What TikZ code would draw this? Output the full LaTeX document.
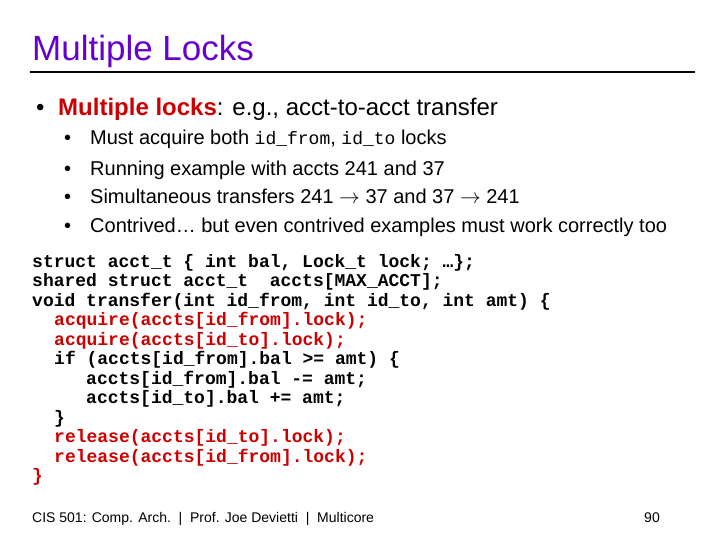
\documentclass[tikz,border=0pt]{standalone}
\usepackage{fontspec}
\setmainfont{Liberation Sans}
\setmonofont{Liberation Mono}
\begin{document}
\begin{tikzpicture}[x=1pt,y=-1pt,
  txt/.style={anchor=base west,inner sep=0pt},
  lvl1/.style={txt,font=\fontsize{24}{26}\selectfont},
  lvl2/.style={txt,font=\fontsize{20}{22}\selectfont},
  code/.style={txt,font=\fontsize{18}{19}\selectfont\ttfamily\bfseries},
  foot/.style={txt,font=\fontsize{14}{16}\selectfont}]
\definecolor{titlec}{RGB}{102,0,204}
\definecolor{redc}{RGB}{204,0,0}
\useasboundingbox (0,0) rectangle (720,540);
\fill[white] (0,0) rectangle (720,540);
\node[txt,font=\fontsize{35}{38}\selectfont,text=titlec] (title) at (32,61) {Multiple Locks};
\coordinate (l1) at (30,72); \coordinate (l2) at (695,72);
\draw[line width=2pt] (l1) -- (l2);
\node[lvl1] (b1) at (36,116) {•};
\node[lvl1] (t1) at (58,116) {\textcolor{redc}{\textbf{Multiple locks}}: e.g., acct-to-acct transfer};
\foreach \y/\t [count=\i] in {145/{Must acquire both \texttt{\fontsize{18}{19}\selectfont id\_from}, \texttt{\fontsize{18}{19}\selectfont id\_to} locks},
  176/{Running example with accts 241 and 37},
  204/{Simultaneous transfers 241 $\rightarrow$ 37 and 37 $\rightarrow$ 241},
  233/{Contrived… but even contrived examples must work correctly too}}{
  \node[lvl2] (sb\i) at (64,\y) {•};
  \node[lvl2] (st\i) at (90,\y) {\t};
}
\foreach \y/\x/\c/\t [count=\i] in {
  267/32/black/{struct acct\_t \{ int bal, Lock\_t lock; …\};},
  286/32/black/{shared struct acct\_t~~accts[MAX\_ACCT];},
  306/32/black/{void transfer(int id\_from, int id\_to, int amt) \{},
  325/54/redc/{acquire(accts[id\_from].lock);},
  345/54/redc/{acquire(accts[id\_to].lock);},
  364/54/black/{if (accts[id\_from].bal >= amt) \{},
  384/86/black/{accts[id\_from].bal -= amt;},
  403/86/black/{accts[id\_to].bal += amt;},
  423/54/black/{\}},
  442/54/redc/{release(accts[id\_to].lock);},
  462/54/redc/{release(accts[id\_from].lock);},
  481/32/redc/{\}}}{
  \node[code,text=\c] (c\i) at (\x,\y) {\t};
}
\node[foot] (f1) at (32,522) {CIS 501: Comp. Arch.~~|~~Prof. Joe Devietti~~|~~Multicore};
\node[foot,anchor=base east] (f2) at (660,522) {90};
\end{tikzpicture}
\end{document}
